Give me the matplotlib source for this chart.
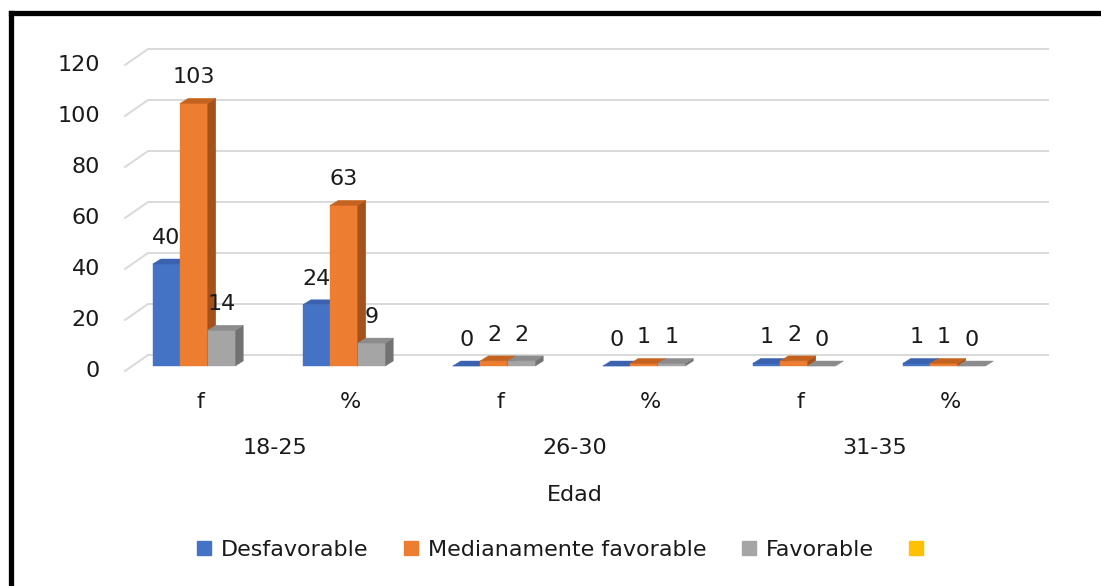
import matplotlib
matplotlib.use('Agg')
import matplotlib.pyplot as plt
from matplotlib.patches import Polygon, Patch
from matplotlib.lines import Line2D

# datos
categorias = ['f', '%', 'f', '%', 'f', '%']
grupos = ['18-25', '26-30', '31-35']
desfavorable = [40, 24, 0, 0, 1, 1]
medianamente = [103, 63, 2, 1, 2, 1]
favorable = [14, 9, 2, 1, 0, 0]
series_nombres = ['Desfavorable', 'Medianamente favorable', 'Favorable', '']
y_ticks = [0, 20, 40, 60, 80, 100, 120]

# colores: frente, lado, tapa
colores = [
    ('#4472C4', '#2F5597', '#3A62AE'),
    ('#ED7D31', '#A4511C', '#C4621F'),
    ('#A5A5A5', '#727272', '#8C8C8C'),
]
amarillo = '#FFC000'

plt.rcParams['font.family'] = ['DejaVu Sans']
plt.rcParams['font.size'] = 16
txt_color = '#1a1a1a'

W, H = 1101, 586
fig = plt.figure(figsize=(W / 100, H / 100), dpi=100)
ax = fig.add_axes([119 / W, (H - 366) / H, 900 / W, 306 / H])
ax.set_xlim(-0.5, 5.5)
ax.set_ylim(0, 120)
ax.set_xticks([])
ax.set_yticks([])
for s in ax.spines.values():
    s.set_visible(False)
ax.patch.set_alpha(0)

# pixeles -> unidades de datos
px_x = 6 / 900
px_y = 120 / 306
x0 = ax.get_xlim()[0]
x1 = ax.get_xlim()[1]

# lineas de cuadricula (pared del fondo)
for v in y_ticks:
    ax.plot([x0 + 6 * px_x, x0 + 29 * px_x, x1 + 29 * px_x],
            [v - 5 * px_y, v + 11 * px_y, v + 11 * px_y],
            color='#D9D9D9', lw=1.4, clip_on=False, zorder=0)
    ax.text(x0 - 19 * px_x, v - 5 * px_y, str(v), ha='right', va='center',
            color=txt_color, clip_on=False)

# barras con efecto 3D
w = 27.5 * px_x
dx = 8 * px_x
dy = 5 * px_y
pos = list(range(len(categorias)))
for k, vals in enumerate([desfavorable, medianamente, favorable]):
    front, side, top = colores[k]
    xs = [p + (k - 1) * w for p in pos]
    ax.bar(xs, vals, width=w, color=front, edgecolor=front, lw=0.3,
           zorder=2 + k, clip_on=False)
    for xc, v in zip(xs, vals):
        a, b = xc - w / 2, xc + w / 2
        ax.add_patch(Polygon([(b, 0), (b, v), (b + dx, v + dy), (b + dx, dy)],
                             closed=True, fc=side, ec=side, lw=0.3,
                             zorder=2 + k, clip_on=False))
        ax.add_patch(Polygon([(a, v), (b, v), (b + dx, v + dy), (a + dx, v + dy)],
                             closed=True, fc=top, ec=top, lw=0.3,
                             zorder=2 + k, clip_on=False))
        ax.text(xc, v + 26 * px_y, str(v), ha='center', va='center',
                color=txt_color, zorder=10, clip_on=False)

# etiquetas del eje x
for p, c in zip(pos, categorias):
    ax.text(p + 6 * px_x, -36 * px_y, c, ha='center', va='center',
            color=txt_color, clip_on=False)
for g, nombre in enumerate(grupos):
    ax.text((pos[2 * g] + pos[2 * g + 1]) / 2 + 6 * px_x, -82 * px_y, nombre,
            ha='center', va='center', color=txt_color, clip_on=False)
ax.text((x0 + x1) / 2 + 6 * px_x, -129 * px_y, 'Edad', ha='center',
        va='center', color=txt_color, clip_on=False)

# leyenda
handles = [Patch(color=c[0]) for c in colores] + [Patch(color=amarillo)]
fig.legend(handles, series_nombres, ncol=4, loc='center',
           bbox_to_anchor=(565 / W, 1 - 550 / H), frameon=False,
           handlelength=0.62, handleheight=0.62, handletextpad=0.45,
           columnspacing=1.6, labelcolor=txt_color)

# marco negro (izquierda y arriba)
fig.add_artist(Line2D([11 / W, 11 / W], [0, 1 - 12.5 / H], color='black',
                      lw=3.8, transform=fig.transFigure, solid_capstyle='projecting'))
fig.add_artist(Line2D([11 / W, 1], [1 - 12.5 / H, 1 - 12.5 / H], color='black',
                      lw=3.8, transform=fig.transFigure, solid_capstyle='projecting'))

fig.savefig('out.png', dpi=100, facecolor='white')
